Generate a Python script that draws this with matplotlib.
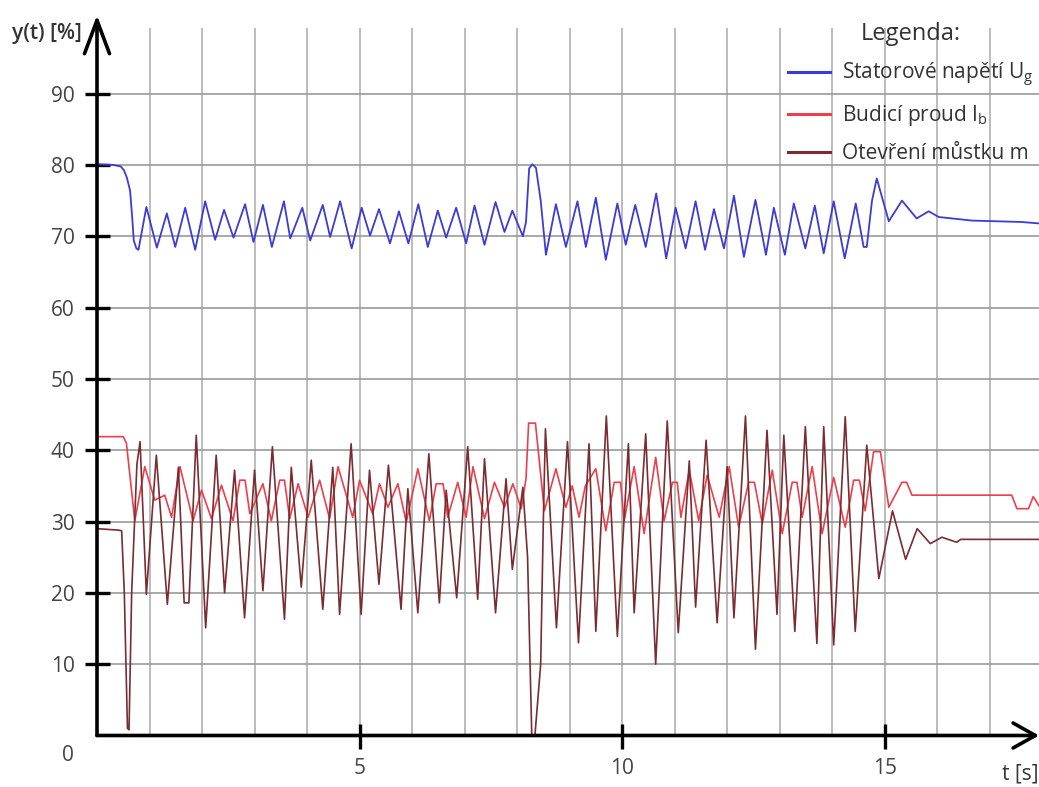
import matplotlib
matplotlib.use('Agg')
import matplotlib.pyplot as plt

plt.rcParams['font.family'] = ['Open Sans', 'DejaVu Sans']

# stator voltage U_g [%]
t_u = [0, 0.30, 0.45, 0.51, 0.57, 0.63, 0.67, 0.70, 0.75, 0.79, 0.94, 1.14, 1.33, 1.49, 1.68,
       1.87, 2.06, 2.25, 2.42, 2.60, 2.82, 2.98, 3.16, 3.33, 3.56, 3.68, 3.91, 4.06, 4.30,
       4.44, 4.63, 4.85, 5.04, 5.20, 5.37, 5.58, 5.75, 5.93, 6.12, 6.30, 6.49, 6.65, 6.84,
       7.03, 7.19, 7.38, 7.59, 7.76, 7.91, 8.11, 8.17, 8.23, 8.29, 8.36, 8.45, 8.55, 8.74,
       8.93, 9.15, 9.31, 9.50, 9.69, 9.91, 10.07, 10.25, 10.45, 10.65, 10.84, 11.02, 11.21,
       11.40, 11.58, 11.75, 11.94, 12.13, 12.32, 12.54, 12.74, 12.89, 13.10, 13.27, 13.49,
       13.67, 13.84, 14.03, 14.24, 14.45, 14.60, 14.66, 14.76, 14.85, 15.08, 15.33, 15.61,
       15.84, 16.03, 16.66, 17.61, 17.94]
u_g = [80.1, 80.0, 79.8, 79.3, 78.2, 76.4, 72.7, 69.4, 68.3, 68.1, 74.1, 68.4, 73.2, 68.5, 74.0,
       68.1, 74.9, 69.5, 73.7, 69.8, 74.5, 69.2, 74.4, 68.5, 74.9, 69.7, 74.0, 69.4, 74.4,
       69.9, 74.9, 68.3, 74.0, 70.1, 73.8, 69.0, 73.5, 69.0, 74.5, 68.5, 73.6, 69.8, 74.0,
       69.0, 74.3, 68.8, 74.8, 70.6, 73.6, 70.0, 72.0, 79.5, 80.1, 79.6, 75.0, 67.4, 74.5,
       68.5, 74.9, 68.5, 75.4, 66.7, 74.6, 68.8, 74.4, 68.5, 76.0, 66.9, 74.0, 68.3,
       74.9, 68.1, 73.8, 68.3, 75.7, 67.1, 75.1, 67.4, 74.0, 67.4, 74.6, 68.3,
       74.3, 67.6, 74.9, 66.9, 74.6, 68.5, 68.5, 75.0, 78.1, 72.1, 75.0, 72.5,
       73.5, 72.7, 72.2, 72.0, 71.8]

# field current I_b [%]
t_i = [0, 0.50, 0.56, 0.72, 0.91, 1.10, 1.29, 1.42, 1.58, 1.83, 1.99, 2.18, 2.37, 2.59, 2.72,
       2.82, 2.91, 3.16, 3.32, 3.48, 3.57, 3.67, 3.83, 4.02, 4.24, 4.43, 4.59, 4.87, 5.00,
       5.25, 5.38, 5.54, 5.73, 5.89, 6.11, 6.33, 6.46, 6.59, 6.68, 6.87, 7.03, 7.16, 7.38,
       7.57, 7.76, 7.92, 8.08, 8.17, 8.22, 8.35, 8.52, 8.74, 8.93, 9.05, 9.18, 9.30, 9.50,
       9.69, 9.85, 9.97, 10.04, 10.23, 10.42, 10.64, 10.80, 10.96, 11.05, 11.12, 11.28, 11.46,
       11.62, 11.85, 12.04, 12.22, 12.41, 12.52, 12.67, 12.86, 13.05, 13.24, 13.33, 13.43,
       13.62, 13.81, 14.03, 14.25, 14.41, 14.52, 14.63, 14.79, 14.92, 15.08, 15.33, 15.42,
       15.52, 17.42, 17.52, 17.74, 17.83, 17.94]
i_b = [41.9, 41.9, 41.0, 30.1, 37.7, 33.0, 33.7, 30.6, 37.7, 30.1, 34.4, 30.4, 35.1, 30.1, 35.8,
       35.8, 31.1, 35.3, 30.1, 35.8, 35.8, 30.4, 35.3, 30.6, 35.8, 30.4, 37.7, 30.6, 35.8,
       31.1, 35.3, 32.0, 35.3, 29.9, 37.4, 30.1, 35.3, 35.3, 30.6, 35.5, 30.6, 37.7, 30.4,
       35.5, 32.0, 35.3, 31.8, 36.0, 43.8, 43.8, 31.5, 37.4, 32.0, 35.0, 30.6, 35.0, 37.4,
       28.7, 35.5, 35.5, 30.1, 37.7, 28.3, 39.0, 30.1, 35.5, 35.5, 30.6, 37.2, 30.1,
       36.5, 30.6, 37.7, 29.2, 35.5, 35.5, 29.7, 37.2, 28.3, 35.5, 35.5, 30.6,
       37.7, 28.3, 36.2, 29.2, 35.8, 35.8, 31.5, 39.8, 39.8, 32.0, 35.5, 35.5,
       33.7, 33.7, 31.8, 31.8, 33.5, 32.2]

# bridge opening m [%]
t_m = [0, 0.40, 0.47, 0.52, 0.58, 0.61, 0.66, 0.76, 0.82, 0.94, 1.13, 1.34, 1.55, 1.66, 1.75,
       1.89, 2.07, 2.27, 2.43, 2.62, 2.81, 3.00, 3.16, 3.34, 3.57, 3.70, 3.89, 4.08, 4.30,
       4.49, 4.62, 4.84, 5.03, 5.19, 5.37, 5.55, 5.79, 5.92, 6.11, 6.32, 6.52, 6.65, 6.85,
       7.06, 7.25, 7.38, 7.59, 7.79, 7.91, 8.11, 8.20, 8.28, 8.34, 8.45, 8.50, 8.54, 8.75,
       8.96, 9.17, 9.37, 9.50, 9.70, 9.91, 10.12, 10.23, 10.45, 10.64, 10.86, 11.07, 11.28,
       11.40, 11.60, 11.81, 12.00, 12.13, 12.35, 12.54, 12.76, 12.95, 13.08, 13.29, 13.49,
       13.71, 13.84, 14.03, 14.25, 14.44, 14.66, 14.89, 15.15, 15.40, 15.62, 15.87, 16.09,
       16.37, 16.45, 17.94]
m = [29.0, 28.8, 28.7, 20.0, 1.0, 0.8, 20.0, 38.0, 41.2, 19.8, 39.3, 18.4, 37.6, 18.6, 18.6,
     42.1, 15.1, 39.3, 20.0, 37.2, 16.5, 37.2, 20.3, 40.5, 16.3, 37.6, 20.8, 38.6, 17.7,
     37.6, 17.0, 40.9, 17.0, 37.2, 21.2, 37.9, 17.7, 34.6, 17.2, 39.5, 18.6, 34.4, 19.3,
     40.5, 19.1, 38.8, 17.2, 36.0, 23.3, 34.8, 25.0, 0.0, 0.0, 10.0, 30.0, 43.0, 15.1,
     41.2, 13.0, 40.9, 14.6, 44.8, 13.9, 40.9, 17.2, 42.3, 10.0, 44.1, 14.4, 38.5,
     18.0, 41.4, 15.8, 37.7, 16.5, 44.8, 12.1, 42.8, 17.0, 42.1, 14.6, 43.3,
     12.9, 43.3, 12.7, 44.7, 14.6, 40.7, 22.0, 31.5, 24.7, 29.0, 26.9, 27.8,
     27.1, 27.5, 27.5]

x_ticks = [5, 10, 15]
y_ticks = [10, 20, 30, 40, 50, 60, 70, 80, 90]

fig = plt.figure(figsize=(10.39, 7.87), dpi=100)
ax = fig.add_axes([97 / 1039, 51.5 / 787, 942 / 1039, 707.5 / 787])

ax.plot(t_u, u_g, color='#3b3bd6', lw=1.3, label='Statorové napětí U$_{\\mathregular{g}}$')
ax.plot(t_i, i_b, color='#ec3f4c', lw=1.2, label='Budicí proud I$_{\\mathregular{b}}$')
ax.plot(t_m, m, color='#7a2c30', lw=1.2, label='Otevření můstku m')

ax.set_xlim(0, 17.94)
ax.set_ylim(0, 99.2)
for s in ax.spines.values():
    s.set_visible(False)

ax.set_xticks(x_ticks)
ax.set_xticks(range(1, 18), minor=True)
ax.set_yticks(y_ticks)
ax.tick_params(which='major', direction='inout', length=18, width=2.4, color='black',
               labelsize=15, labelcolor='#444444', pad=7)
ax.tick_params(which='minor', length=0)
ax.grid(axis='x', which='both', color='#b0b0b0', lw=1.2)
ax.grid(axis='y', which='major', color='#999999', lw=1.2)
ax.set_axisbelow(True)

arrow = dict(arrowstyle='->,head_length=1.2,head_width=0.45', lw=2.6, color='black',
             shrinkA=0, shrinkB=0, mutation_scale=20)
ax.annotate('', xy=(0, 101.0), xytext=(0, 0), arrowprops=arrow, annotation_clip=False)
ax.annotate('', xy=(17.94, 0), xytext=(0, 0),
            arrowprops=dict(arrow, arrowstyle='->,head_length=0.8,head_width=0.45'),
            annotation_clip=False)

ax.annotate('0', xy=(0, 0), xytext=(-29, -20), textcoords='offset pixels',
            ha='center', va='center', fontsize=15, color='#444444')
fig.text(82 / 1039, 1 - 33 / 787, 'y(t) [%]', ha='right', va='center', fontsize=15,
         color='#333333', fontweight='semibold')
fig.text(1.0, 1 - 774 / 787, 't [s]', ha='right', va='center', fontsize=15, color='#333333')

leg = ax.legend(loc='upper left', bbox_to_anchor=(788 / 1039, 1 - 22 / 787),
                bbox_transform=fig.transFigure, frameon=False, fontsize=15,
                title='Legenda:', title_fontsize=17, handlelength=2.0, handletextpad=0.6,
                borderpad=0, borderaxespad=0, labelspacing=0.7, labelcolor='#333333')
leg.get_title().set_color('#333333')
for h in leg.get_lines():
    h.set_linewidth(2.2)

fig.savefig('out.png', dpi=100)
